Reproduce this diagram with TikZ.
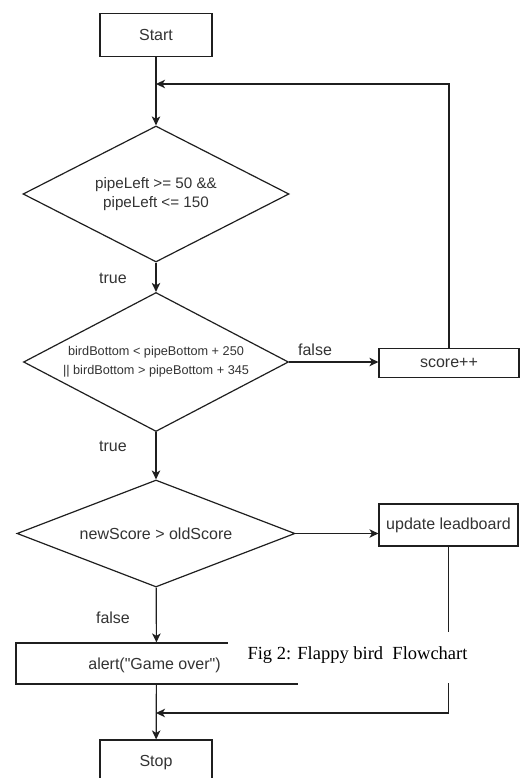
\documentclass[tikz,border=0pt]{standalone}
\usepackage{fontspec}
\setmainfont{Liberation Sans}[Ligatures=TeXOff]
\newfontfamily\capfont{Liberation Serif}
\usetikzlibrary{shapes.geometric,arrows.meta}
\begin{document}
\begin{tikzpicture}[x=1pt,y=-1pt,
  line/.style={draw=black!88, line width=1.2pt},
  arr/.style={line, -{Stealth[length=9pt,width=8.5pt,inset=2.5pt]}},
  box/.style={rectangle, draw=black!88, line width=1.2pt, fill=white, inner sep=0pt, text=black!80, font=\fontsize{16}{19}\selectfont},
  dec/.style={diamond, draw=black!88, line width=1.2pt, inner sep=0pt, text=black!80, align=center},
  lbl/.style={text=black!80, font=\fontsize{16}{19}\selectfont, inner sep=0pt},
]
\clip (0,0) rectangle (530,778);
\fill[white] (0,0) rectangle (530,778);
% nodes
\node[box, minimum width=112pt, minimum height=42.5pt] (start) at (156,35) {Start};
\node[dec, minimum width=266pt, minimum height=136pt, shape aspect=1.956,
      font=\fontsize{15.2}{19.6}\selectfont] (d1) at (156,194) {pipeLeft >= 50 \&\&\\pipeLeft <= 150};
\node[dec, minimum width=265pt, minimum height=139pt, shape aspect=1.906,
      font=\fontsize{12.7}{19.4}\selectfont] (d2) at (156,362) {birdBottom < pipeBottom + 250\\|| birdBottom > pipeBottom + 345};
\node[box, minimum width=140pt, minimum height=28.4pt] (score) at (449,363) {score++};
\node[dec, minimum width=278pt, minimum height=107pt, shape aspect=2.6,
      font=\fontsize{16}{19}\selectfont] (d3) at (156,533.5) {newScore > oldScore};
\node[box, minimum width=139pt, minimum height=42pt] (upd) at (448.5,525) {update leadboard};
\node[box, minimum width=281pt, minimum height=41pt, text depth=0pt] (alert) at (156.5,663.5) {\hspace*{-4pt}alert("Game over")};
\node[box, minimum width=112pt, minimum height=46pt] (stop) at (156,763) {Stop};
% labels
\node[lbl] (t1) at (113,278) {true};
\node[lbl] (f1) at (315,350) {false};
\node[lbl] (t2) at (113,446) {true};
\node[lbl] (f2) at (113,618) {false};
% junctions
\coordinate (j1) at (156,84);
\coordinate (j2) at (156,713);
% connectors
\draw[arr] (start) -- (d1);
\draw[arr] (score.north) |- (j1);
\draw[arr] (d1) -- (d2);
\draw[arr] (d2.east) -- (d2.east -| score.west);
\draw[arr] (d2) -- (d3);
\draw[arr] (d3.east) -- (d3.east -| upd.west);
\draw[arr] (d3) -- (alert);
\draw[arr] (upd.south) |- (j2);
\draw[arr] (alert) -- (stop);
% caption frame
\node[fill=white, inner sep=0pt, minimum width=262pt, minimum height=51pt] (capbg) at (359,657.5) {};
\node[inner sep=0pt, font=\capfont\fontsize{18.5}{22}\selectfont] (cap) at (357.5,655) {Fig 2: Flappy bird\ \ Flowchart};
\end{tikzpicture}
\end{document}
